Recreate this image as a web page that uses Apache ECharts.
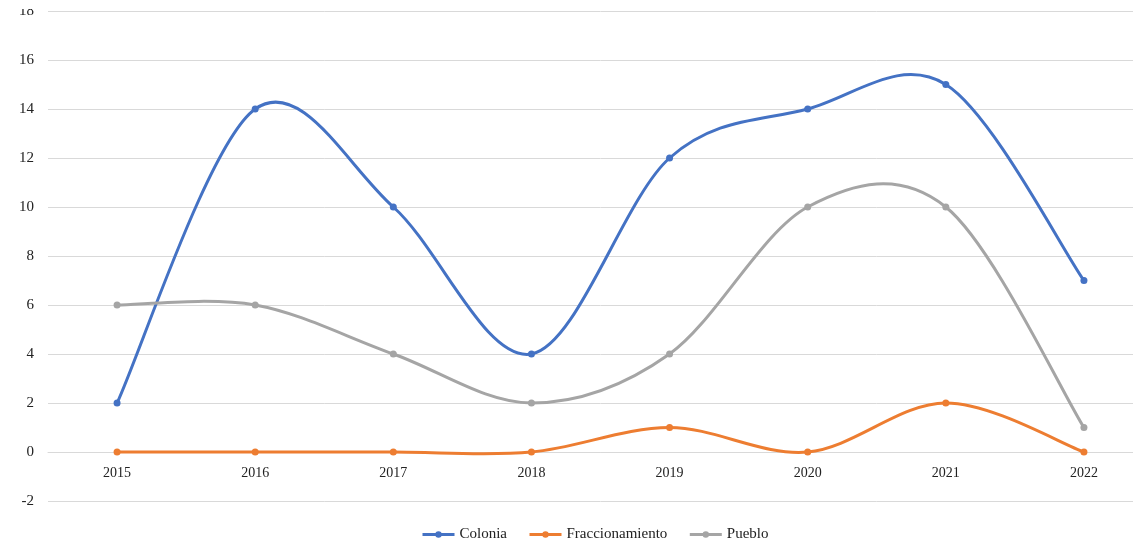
<!DOCTYPE html>
<html>
<head>
<meta charset="utf-8">
<script src="https://cdn.jsdelivr.net/npm/echarts@6/dist/echarts.min.js"></script>
<style>
  html, body { margin: 0; padding: 0; background: #fff; overflow: hidden; }
  #chart { width: 1153px; height: 545px; }
</style>
</head>
<body>
<div id="chart"></div>
<script>
// Yearly counts by settlement type
const years = ['2015', '2016', '2017', '2018', '2019', '2020', '2021', '2022'];
const colonia = [2, 14, 10, 4, 12, 14, 15, 7];
const fraccionamiento = [0, 0, 0, 0, 1, 0, 2, 0];
const pueblo = [6, 6, 4, 2, 4, 10, 10, 1];

const FONT = '"Liberation Serif", "DejaVu Serif", serif';
const colors = ['#4472C4', '#ED7D31', '#A5A5A5'];

// Cardinal-spline segment between point i and i+1 (tangent = neighbour difference / 6)
function curveSeries(name, values, color) {
  const n = values.length;
  return {
    name: name + ' curve',
    type: 'custom',
    data: values.map((v, i) => [i, v]),
    encode: { x: 0, y: 1 },
    silent: true,
    z: 2,
    renderItem: function (params, api) {
      const i = params.dataIndex;
      if (i >= n - 1) return null;
      const pt = k => {
        const j = Math.max(0, Math.min(n - 1, k));
        return api.coord([j, values[j]]);
      };
      const p0 = pt(i - 1), p1 = pt(i), p2 = pt(i + 1), p3 = pt(i + 2);
      return {
        type: 'bezierCurve',
        shape: {
          x1: p1[0], y1: p1[1],
          x2: p2[0], y2: p2[1],
          cpx1: p1[0] + (p2[0] - p0[0]) / 6, cpy1: p1[1] + (p2[1] - p0[1]) / 6,
          cpx2: p2[0] - (p3[0] - p1[0]) / 6, cpy2: p2[1] - (p3[1] - p1[1]) / 6
        },
        style: { stroke: color, lineWidth: 3, fill: null, lineCap: 'round' }
      };
    }
  };
}

function markerSeries(name, values, color) {
  return {
    name: name,
    type: 'line',
    data: values,
    symbol: 'circle',
    symbolSize: 7,
    z: 3,
    lineStyle: { width: 3, color: color, opacity: 0 },
    itemStyle: { color: color },
    emphasis: { disabled: true }
  };
}

const names = ['Colonia', 'Fraccionamiento', 'Pueblo'];
const valuesList = [colonia, fraccionamiento, pueblo];

const series = [];
names.forEach((nm, k) => {
  series.push(curveSeries(nm, valuesList[k], colors[k]));
  series.push(markerSeries(nm, valuesList[k], colors[k]));
});

const chart = echarts.init(document.getElementById('chart'));
chart.setOption({
  animation: false,
  color: colors,
  textStyle: { fontFamily: FONT },
  grid: { left: 48, right: 0, top: 11, bottom: 44, containLabel: false },
  legend: {
    top: 522,
    left: 416,
    itemWidth: 32,
    itemHeight: 8,
    itemGap: 21,
    selectedMode: false,
    textStyle: { fontFamily: FONT, fontSize: 15, color: '#222' },
    data: names.map((nm, k) => ({
      name: nm,
      lineStyle: { color: colors[k], width: 3, opacity: 1 },
      itemStyle: { color: colors[k] }
    }))
  },
  xAxis: {
    type: 'category',
    data: years,
    boundaryGap: true,
    offset: -49,
    axisLine: { show: true, onZero: false, lineStyle: { color: '#D9D9D9', width: 1 } },
    axisTick: { show: false },
    axisLabel: { fontFamily: FONT, fontSize: 14, color: '#222', margin: 14 }
  },
  yAxis: {
    type: 'value',
    min: -2,
    max: 18,
    interval: 2,
    axisLine: { show: false },
    axisTick: { show: false },
    splitLine: { lineStyle: { color: '#D9D9D9', width: 1 } },
    axisLabel: { fontFamily: FONT, fontSize: 15, color: '#222', margin: 14 }
  },
  series: series,
  graphic: [{
    type: 'rect',
    left: 0, top: 0,
    shape: { width: 60, height: 9 },
    style: { fill: '#fff' },
    z: 100
  }]
});
</script>
</body>
</html>
